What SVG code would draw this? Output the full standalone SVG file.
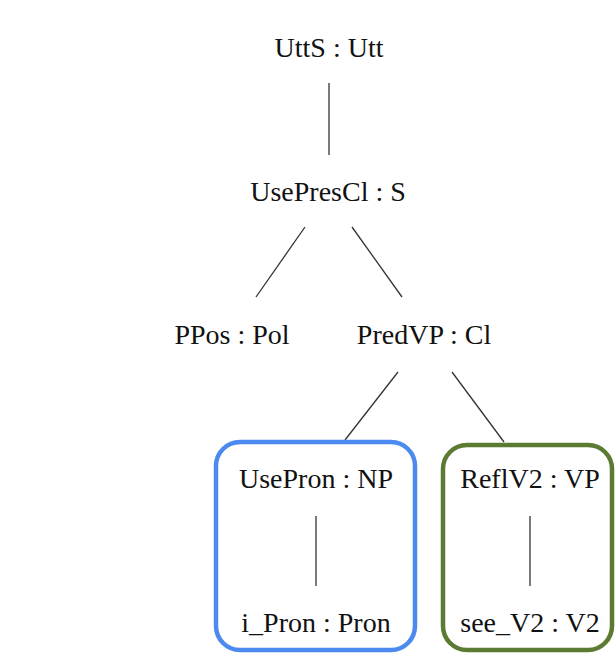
<svg xmlns="http://www.w3.org/2000/svg" width="616" height="660" viewBox="0 0 616 660">
  <style>
    .lbl { font-family: "Liberation Serif", "Times New Roman", serif; font-size: 28px; fill: #111; text-anchor: middle; }
    .edge { stroke: #333; stroke-width: 1.3; fill: none; }
    .box { fill: none; stroke-width: 4.5; }
  </style>
  <rect width="616" height="660" fill="#fff"/>

  <!-- tree edges -->
  <g id="connectors">
    <line class="edge" x1="329" y1="83" x2="329" y2="155"/>
    <line class="edge" x1="305" y1="227" x2="256" y2="297"/>
    <line class="edge" x1="352" y1="227" x2="402" y2="297"/>
    <line class="edge" x1="398" y1="372" x2="345" y2="440"/>
    <line class="edge" x1="452" y1="372" x2="504" y2="442"/>
    <line class="edge" x1="316" y1="516" x2="316" y2="586"/>
    <line class="edge" x1="530" y1="516" x2="530" y2="586"/>
  </g>

  <!-- highlight boxes around subtrees -->
  <rect id="np-box" class="box" x="216" y="442" width="199" height="208" rx="24" stroke="#4d8af0"/>
  <rect id="vp-box" class="box" x="443" y="445" width="169" height="205" rx="24" stroke="#5b7a32"/>

  <g id="utts"><text class="lbl" x="329" y="57">UttS : Utt</text></g>
  <g id="usepresclause"><text class="lbl" x="328" y="201">UsePresCl : S</text></g>
  <g id="ppos"><text class="lbl" x="232" y="344">PPos : Pol</text></g>
  <g id="predvp"><text class="lbl" x="424" y="344">PredVP : Cl</text></g>
  <g id="usepron"><text class="lbl" x="316" y="488">UsePron : NP</text></g>
  <g id="i-pron"><text class="lbl" x="316" y="632">i_Pron : Pron</text></g>
  <g id="reflv2"><text class="lbl" x="530" y="488">ReflV2 : VP</text></g>
  <g id="see-v2"><text class="lbl" x="530" y="632">see_V2 : V2</text></g>
</svg>
